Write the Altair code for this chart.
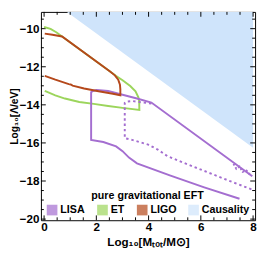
import altair as alt
import pandas as pd

# ---- data ----
lisa_x = [7.97, 4.107, 3.555, 3.004, 2.452, 2.011, 1.864, 1.801, 1.801, 2.268, 2.757, 3.004, 3.25, 3.555, 4.84, 6.13, 7.48]
lisa_y = [-17.75, -13.88, -13.67, -13.47, -13.27, -13.22, -13.27, -13.34, -15.84, -15.95, -16.18, -16.43, -16.77, -17.07, -17.72, -18.33, -18.93]

lisa_dot_x = [4.107, 3.739, 3.371, 3.15, 3.088, 3.088, 3.371, 3.985, 4.353, 4.72, 5.21, 6.13, 7.05, 8.0]
lisa_dot_y = [-13.93, -13.87, -13.80, -13.83, -13.90, -15.75, -15.84, -16.09, -16.35, -16.69, -16.97, -17.47, -17.97, -18.47]

lisa_wig_x = [7.25, 7.36, 7.48, 7.6, 7.75, 7.9]
lisa_wig_y = [-17.10, -17.36, -17.24, -17.52, -17.45, -17.70]

et_x = [0.0, 0.246, 0.467, 0.688, 2.526, 2.746, 3.004, 3.298, 3.5, 3.61, 3.64, 3.647, 3.004, 2.452, 1.9, 1.349, 0.798, 0.43, 0.026]
et_y = [-9.91, -10.01, -10.19, -10.41, -12.25, -12.47, -12.71, -13.01, -13.29, -13.6, -13.8, -14.27, -14.16, -14.06, -13.95, -13.85, -13.67, -13.5, -13.27]

ligo_x = [0.026, 0.32, 0.688, 2.526, 2.71, 2.838, 2.904, 2.919, 2.919, 2.636, 2.085, 1.533, 1.092, 1.018, 0.945, 0.43, 0.026]
ligo_y = [-10.26, -10.32, -10.41, -12.25, -12.45, -12.68, -12.94, -13.19, -13.5, -13.42, -13.29, -13.14, -12.99, -12.93, -12.91, -12.68, -12.48]

causality_x = [0.0, 8.0]
causality_y = [-8.25, -16.25]
causality_top = -8.0

legend_names = ["LISA", "ET", "LIGO", "Causality"]
legend_colors = ["#a46ed0", "#9cd55c", "#b5481b", "#cfe4fb"]

x_major = [0, 2, 4, 6, 8]
x_minor = [v / 2 for v in range(0, 17) if v % 4 != 0]
y_major = [-20, -18, -16, -14, -12, -10]
y_minor = [-20 + v / 2 for v in range(0, 22) if v % 4 != 0]

# ---- layout ----
W, H = 221, 215
FONT = "Liberation Sans"

X = alt.Scale(domain=[-0.12, 8.077], nice=False, zero=False)
Y = alt.Scale(domain=[-20.06, -9.12], nice=False, zero=False)
xaxis = alt.Axis(values=x_major, format="d", title="Log₁₀[Mₜₒₜ/M⊙]", ticks=False, domain=False,
                 labelPadding=2, titlePadding=4, titleFontSize=12)
yaxis = alt.Axis(values=y_major, format="d", title="Log₁₀[Λ/eV]", ticks=False, domain=False,
                 labelPadding=2, titlePadding=0, titleFontSize=10.5)


def xe():
    return alt.X("x:Q", scale=X, axis=xaxis)


def ye():
    return alt.Y("y:Q", scale=Y, axis=yaxis)


def pts(xs, ys):
    return pd.DataFrame({"x": xs, "y": ys, "i": list(range(len(xs)))})


def line(xs, ys, color, **kw):
    return alt.Chart(pts(xs, ys)).mark_line(color=color, strokeWidth=2, clip=True, **kw).encode(
        x=xe(), y=ye(), order="i:Q")


caus_df = pd.DataFrame({"x": causality_x, "y": causality_y, "top": [causality_top] * len(causality_x)})
area = alt.Chart(caus_df).mark_area(color=legend_colors[3], clip=True).encode(
    x=xe(), y=ye(), y2="top:Q")


def xticks(vals, length):
    d = pd.DataFrame({"x": vals})
    b = alt.Chart(d).mark_rule(color="black", strokeWidth=1).encode(x=xe(), y=alt.value(H), y2=alt.value(H - length))
    t = alt.Chart(d).mark_rule(color="black", strokeWidth=1).encode(x=xe(), y=alt.value(0), y2=alt.value(length))
    return [b, t]


def yticks(vals, length):
    d = pd.DataFrame({"y": vals})
    l = alt.Chart(d).mark_rule(color="black", strokeWidth=1).encode(y=ye(), x=alt.value(0), x2=alt.value(length))
    r = alt.Chart(d).mark_rule(color="black", strokeWidth=1).encode(y=ye(), x=alt.value(W), x2=alt.value(W - length))
    return [l, r]


ticks = xticks(x_major, 5) + xticks(x_minor, 3) + yticks(y_major, 5) + yticks(y_minor, 3)

et = line(et_x, et_y, legend_colors[1])
lisa = line(lisa_x, lisa_y, legend_colors[0])
lisa_dot = line(lisa_dot_x, lisa_dot_y, legend_colors[0], strokeDash=[2.5, 3])
lisa_wig = line(lisa_wig_x, lisa_wig_y, legend_colors[0], strokeDash=[2, 2])
ligo = line(ligo_x, ligo_y, legend_colors[2])

leg = alt.Chart(pd.DataFrame({"name": legend_names})).mark_square(size=0).encode(
    x=alt.value(0), y=alt.value(0),
    fill=alt.Fill("name:N", sort=legend_names,
                  scale=alt.Scale(domain=legend_names, range=legend_colors),
                  legend=alt.Legend(title="pure gravitational EFT", orient="none", direction="horizontal",
                                    legendX=6, legendY=184, titleAnchor="middle", titleAlign="center",
                                    symbolType="square", symbolSize=121, symbolStrokeWidth=0,
                                    labelOffset=3, columnPadding=12, titlePadding=4, padding=0)))

chart = alt.layer(area, *ticks, et, lisa_dot, lisa_wig, lisa, ligo, leg).properties(
    width=W, height=H,
    autosize=alt.AutoSizeParams(type="none"),
    padding={"left": 34, "top": 0, "right": 3, "bottom": 37},
).configure_view(stroke="black", strokeWidth=1).configure_axis(
    grid=False, labelFont=FONT, labelFontWeight="bold", labelFontSize=12, labelColor="black",
    titleFont=FONT, titleFontWeight="bold", titleColor="black",
).configure_legend(
    labelFont=FONT, labelFontWeight="bold", labelFontSize=11, labelColor="black",
    titleFont=FONT, titleFontWeight="bold", titleFontSize=11, titleColor="black",
)

chart.save("out.html", embed_options={"renderer": "svg", "actions": False})
